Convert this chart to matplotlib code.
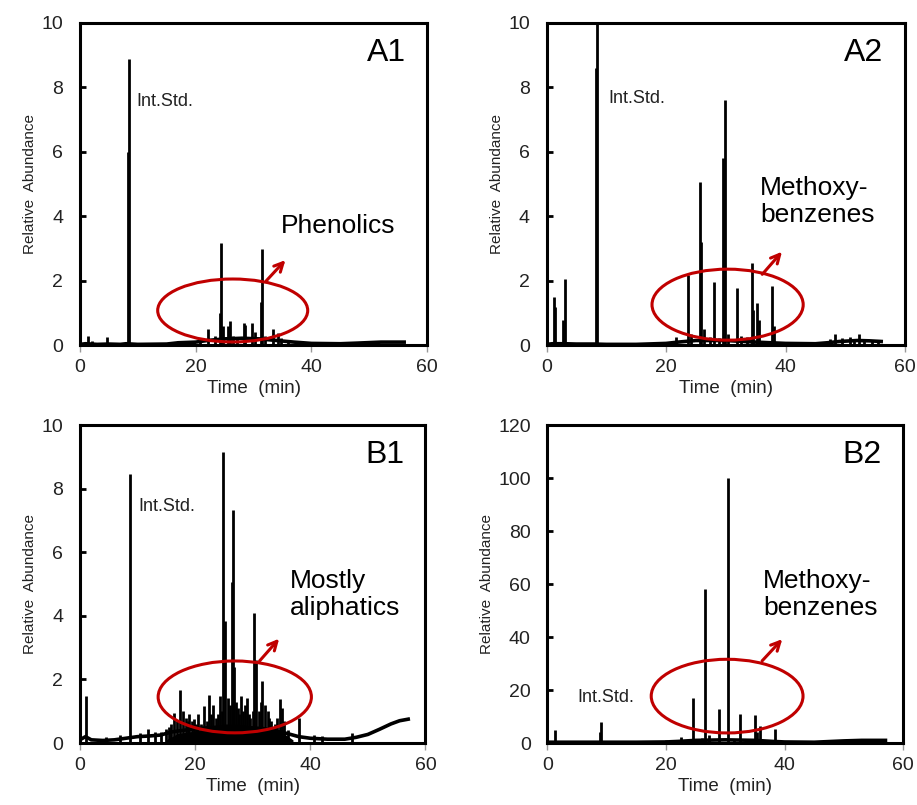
import matplotlib
matplotlib.use('Agg')
import matplotlib.pyplot as plt
from matplotlib.patches import Ellipse

plt.rcParams['font.family'] = ['Liberation Sans', 'DejaVu Sans']

RED = '#C00000'

# ---- A1 : phenolics ----
a1_base_t = [0, 1, 3, 5, 7, 8, 10, 15, 17, 20, 22, 25, 28, 31, 34, 37, 40, 45, 48, 52, 56]
a1_base_v = [0.03, 0.05, 0.03, 0.04, 0.03, 0.05, 0.03, 0.04, 0.08, 0.1, 0.15, 0.2,
             0.22, 0.2, 0.15, 0.1, 0.06, 0.05, 0.07, 0.1, 0.1]
a1_peak_t = [1.4, 2.1, 4.7, 5.5, 8.3, 8.5, 17.0, 18.2, 19.8, 20.7, 22.1, 23.3, 24.2,
             24.4, 24.8, 25.6, 26.0, 26.4, 27.2, 28.3, 28.6, 29.7, 30.2, 31.2, 31.4,
             32.0, 33.3, 34.2, 34.8, 36.0, 37.6, 39.4, 42.0, 45.0, 47.0]
a1_peak_h = [0.3, 0.12, 0.27, 0.07, 6.0, 8.87, 0.12, 0.08, 0.13, 0.12, 0.52, 0.3, 1.0,
             3.18, 0.6, 0.6, 0.76, 0.3, 0.25, 0.7, 0.62, 0.7, 0.4, 1.35, 2.97,
             0.3, 0.5, 0.38, 0.22, 0.12, 0.15, 0.1, 0.05, 0.06, 0.06]

# ---- A2 : methoxybenzenes ----
a2_base_t = [0, 1, 3, 5, 8, 10, 15, 20, 22, 25, 30, 35, 40, 45, 47, 49, 52, 54, 56]
a2_base_v = [0.03, 0.05, 0.05, 0.04, 0.04, 0.03, 0.03, 0.06, 0.1, 0.15, 0.15, 0.1,
             0.06, 0.05, 0.08, 0.12, 0.15, 0.14, 0.12]
a2_peak_t = [1.2, 1.5, 2.8, 3.05, 5.6, 8.3, 8.5, 16.7, 19.2, 21.7, 23.7, 24.2, 25.7,
             25.9, 26.4, 27.3, 28.1, 28.9, 29.6, 29.8, 30.3, 31.8, 32.5, 33.5, 34.3,
             34.6, 35.3, 35.6, 37.7, 38.1, 41.0, 44.0, 47.5, 48.3, 49.5, 50.8, 51.5,
             52.3, 53.2, 54.5, 55.5]
a2_peak_h = [1.49, 1.2, 0.8, 2.07, 0.08, 8.6, 12.0, 0.06, 0.08, 0.27, 2.18, 0.35, 5.06,
             3.2, 0.5, 0.25, 1.95, 0.22, 5.8, 7.61, 0.35, 1.77, 0.3, 0.25, 2.56,
             1.1, 1.3, 0.8, 1.85, 0.6, 0.07, 0.07, 0.2, 0.36, 0.22, 0.25, 0.2,
             0.35, 0.2, 0.18, 0.16]

# ---- B1 : mostly aliphatics ----
b1_base_t = [0, 1, 2, 4, 6, 8, 10, 12, 14, 16, 18, 20, 24, 28, 32, 36, 38, 40, 43, 46,
             48, 50, 52, 54, 55.5, 57]
b1_base_v = [0.1, 0.2, 0.1, 0.08, 0.1, 0.15, 0.2, 0.22, 0.25, 0.35, 0.4, 0.45, 0.5,
             0.5, 0.45, 0.3, 0.2, 0.15, 0.12, 0.12, 0.18, 0.27, 0.43, 0.6, 0.7, 0.75]
# unresolved hump under the dense peak cluster
b1_hump_t = [15, 17, 19, 21, 23, 25, 27, 29, 31, 33, 35, 37]
b1_hump_v = [0.1, 0.3, 0.35, 0.4, 0.5, 0.6, 0.6, 0.55, 0.5, 0.45, 0.35, 0.1]
b1_peak_t = [1.15, 4.5, 7.0, 8.8, 10.4, 11.8, 13.0, 14.1, 15.0, 15.5, 15.9, 16.4, 16.9,
             17.4, 17.9, 18.4, 18.7, 19.0, 19.5, 19.9, 20.2, 20.5, 21.0, 21.5, 22.0,
             22.5, 22.8, 23.1, 23.7, 24.0, 24.3, 24.6, 24.9, 25.2, 25.7, 26.1, 26.4,
             26.6, 26.8, 27.1, 27.4, 27.7, 28.0, 28.4, 28.7, 29.0, 29.3, 29.6, 30.0,
             30.3, 30.6, 31.1, 31.4, 31.7, 32.1, 32.6, 32.9, 33.2, 33.8, 34.3, 34.7,
             35.1, 35.5, 36.1, 38.1, 40.7, 42.1, 47.3]
b1_peak_h = [1.47, 0.2, 0.25, 8.47, 0.3, 0.45, 0.35, 0.35, 0.45, 0.5, 0.6, 0.95, 0.7,
             1.68, 1.0, 0.8, 0.7, 0.9, 0.7, 0.75, 0.6, 0.9, 0.6, 1.16, 0.7,
             1.5, 0.9, 1.2, 0.8, 0.9, 1.47, 1.0, 9.16, 3.84, 1.4, 1.2, 5.07,
             7.34, 2.4, 1.3, 1.1, 0.9, 1.47, 1.0, 1.2, 1.42, 0.9, 0.8, 1.0,
             4.1, 2.6, 1.0, 1.3, 1.95, 1.2, 1.0, 0.8, 0.7, 0.6, 0.8, 1.39,
             1.1, 0.7, 0.4, 0.8, 0.25, 0.22, 0.3]

# ---- B2 : methoxybenzenes ----
b2_base_t = [0, 2, 5, 10, 15, 20, 22, 25, 30, 35, 38, 40, 45, 47, 50, 53, 57]
b2_base_v = [0.3, 0.3, 0.3, 0.3, 0.3, 0.4, 0.6, 1.0, 1.2, 1.0, 0.6, 0.4, 0.3, 0.5,
             0.8, 1.0, 1.0]
b2_peak_t = [1.2, 8.8, 9.0, 20.0, 22.5, 24.5, 25.5, 26.1, 26.5, 27.3, 28.9, 30.5,
             31.4, 32.5, 34.2, 35.0, 35.4, 35.8, 38.3, 42.4, 49.0, 52.0, 53.5]
b2_peak_h = [5.1, 4.0, 7.8, 1.0, 2.3, 17.1, 1.5, 2.0, 58.0, 3.0, 12.7, 100.0,
             1.5, 11.0, 1.5, 10.4, 4.0, 6.5, 5.3, 0.5, 1.2, 1.3, 1.4]

panels = [
  # label, rect, base, peaks, ymax, ystep, istd (x, y), note text, note (x, y),
  # ellipse (cx, cy, w, h), arrow (x0, y0, x1, y1)
  ('A1', [0.087, 0.571, 0.379, 0.401], (a1_base_t, a1_base_v), (a1_peak_t, a1_peak_h),
   10, 2, (9.8, 7.54), 'Phenolics', (34.8, 3.7),
   (26.4, 1.08, 25.9, 1.95), (32.2, 2.0, 35.5, 2.64)),
  ('A2', [0.596, 0.571, 0.391, 0.401], (a2_base_t, a2_base_v), (a2_peak_t, a2_peak_h),
   10, 2, (10.4, 7.64), 'Methoxy-\nbenzenes', (35.7, 4.45),
   (30.3, 1.26, 25.3, 2.2), (36.1, 2.2, 39.4, 2.9)),
  ('B1', [0.087, 0.077, 0.377, 0.395], (b1_base_t, b1_base_v), (b1_peak_t, b1_peak_h),
   10, 2, (10.2, 7.45), 'Mostly\naliphatics', (36.4, 4.68),
   (26.9, 1.45, 26.6, 2.26), (31.2, 2.58, 34.6, 3.28)),
  ('B2', [0.597, 0.077, 0.388, 0.395], (b2_base_t, b2_base_v), (b2_peak_t, b2_peak_h),
   120, 20, (5.0, 17.1), 'Methoxy-\nbenzenes', (36.4, 56),
   (30.3, 17.7, 25.6, 27.8), (36.2, 31, 39.6, 39.2)),
]

fig = plt.figure(figsize=(9.17, 8.05), dpi=100)

for (label, rect, base, peaks, ymax, ystep, istd, note, note_xy,
     ell, arr) in panels:
  ax = fig.add_axes(rect)
  ax.plot(base[0], base[1], color='black', lw=2.6, solid_joinstyle='miter')
  ax.vlines(peaks[0], 0, peaks[1], color='black', lw=2)
  if label == 'B1':
    ax.fill_between(b1_hump_t, 0, b1_hump_v, color='black', lw=0)

  ax.set_xlim(0, 60)
  ax.set_ylim(0, ymax)
  ax.set_xticks(range(0, 61, 20))
  ax.set_yticks(range(0, ymax + 1, ystep))

  for s in ax.spines.values():
    s.set_linewidth(2.2)
  ax.tick_params(axis='y', direction='in', length=4, width=2, pad=12, labelsize=14,
                 labelcolor='#222222')
  ax.tick_params(axis='x', direction='out', length=5, width=1, color='#999999',
                 pad=5, labelsize=14, labelcolor='#222222')
  ax.set_xlabel('Time  (min)', fontsize=13.5, labelpad=3, color='#222222')
  ax.set_ylabel('Relative  Abundance', fontsize=11, labelpad=3, color='#222222')

  ax.text(0.94, 0.905, label, transform=ax.transAxes, ha='right', va='center',
          fontsize=23)
  ax.text(istd[0], istd[1], 'Int.Std.', ha='left', va='center', fontsize=13,
          color='#222222')
  ax.text(note_xy[0], note_xy[1], note, ha='left', va='center', fontsize=19,
          linespacing=1.15)

  ax.add_patch(Ellipse((ell[0], ell[1]), ell[2], ell[3], fill=False,
                       edgecolor=RED, lw=2.2, zorder=3))
  ax.annotate('', xy=(arr[2], arr[3]), xytext=(arr[0], arr[1]),
              arrowprops=dict(arrowstyle='->', color=RED, lw=2.2,
                              mutation_scale=16, shrinkA=0, shrinkB=0))

fig.savefig('out.png', dpi=100)
